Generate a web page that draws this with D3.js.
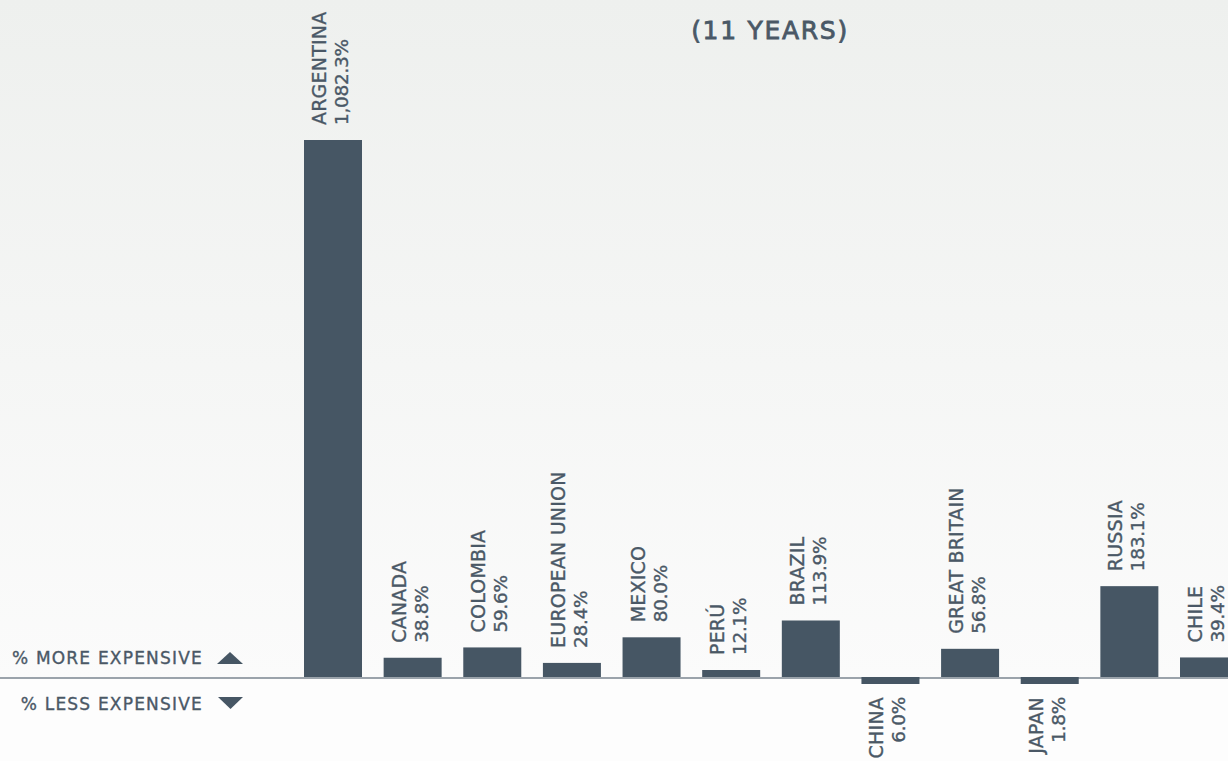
<!DOCTYPE html>
<html>
<head>
<meta charset="utf-8">
<script src="https://cdn.jsdelivr.net/npm/d3@7"></script>
<style>
  html, body { margin: 0; padding: 0; overflow: hidden; background: #fdfdfd; }
  text { font-family: "DejaVu Sans", sans-serif; fill: #4a5866; stroke: #4a5866; stroke-width: 0.35px; }
</style>
</head>
<body>
<script>
var countries = ["ARGENTINA", "CANADA", "COLOMBIA", "EUROPEAN UNION", "MEXICO", "PERÚ", "BRAZIL", "CHINA", "GREAT BRITAIN", "JAPAN", "RUSSIA", "CHILE"];
var changes = [1082.3, 38.8, 59.6, 28.4, 80.0, 12.1, 113.9, -6.0, 56.8, -1.8, 183.1, 39.4];
var labels = ["1,082.3%", "38.8%", "59.6%", "28.4%", "80.0%", "12.1%", "113.9%", "6.0%", "56.8%", "1.8%", "183.1%", "39.4%"];
var title = "(11 YEARS)";
var moreText = "% MORE EXPENSIVE";
var lessText = "% LESS EXPENSIVE";

var width = 1228;
var height = 761;
var zeroY = 677;
var barColor = "#465664";

var svg = d3.select("body").append("svg").attr("width", width).attr("height", height);

// background: soft gradient above the baseline
var defs = svg.append("defs");
var grad = defs.append("linearGradient").attr("id", "bg").attr("x1", 0).attr("y1", 0).attr("x2", 0).attr("y2", 1);
grad.append("stop").attr("offset", "0%").attr("stop-color", "#eef0ee");
grad.append("stop").attr("offset", "100%").attr("stop-color", "#fbfbfb");
svg.append("rect").attr("x", 0).attr("y", 0).attr("width", width).attr("height", zeroY).attr("fill", "url(#bg)");
svg.append("rect").attr("x", 0).attr("y", zeroY).attr("width", width).attr("height", height - zeroY).attr("fill", "#fdfdfd");

var x = d3.scaleBand().domain(countries).range([304, 1238]).paddingInner(0.2717).paddingOuter(0);
var y = d3.scaleLinear().domain([0, 1082.3]).range([zeroY, 140]);

// baseline
svg.append("line").attr("x1", 0).attr("x2", width).attr("y1", zeroY + 1).attr("y2", zeroY + 1)
  .attr("stroke", "#9ba3ab").attr("stroke-width", 2);

var minH = 7;
function barH(v) {
  return Math.max(Math.abs(y(v) - zeroY), minH);
}
function barTop(v) {
  return v >= 0 ? zeroY - barH(v) : zeroY;
}

svg.selectAll("rect.bar").data(countries).enter().append("rect")
  .attr("class", "bar")
  .attr("x", function(d) { return x(d); })
  .attr("width", x.bandwidth())
  .attr("y", function(d, i) { return barTop(changes[i]); })
  .attr("height", function(d, i) { return barH(changes[i]); })
  .attr("fill", barColor);

// rotated labels
var lab = svg.selectAll("g.lab").data(countries).enter().append("g")
  .attr("class", "lab")
  .attr("transform", function(d, i) {
    var cx = x(d) + x.bandwidth() / 2;
    var v = changes[i];
    var ty = v >= 0 ? barTop(v) - 15 : zeroY + barH(v) + 13;
    return "translate(" + cx + "," + ty + ") rotate(-90)";
  });

lab.append("text")
  .attr("x", 0).attr("y", -7)
  .attr("text-anchor", function(d, i) { return changes[i] >= 0 ? "start" : "end"; })
  .style("font-size", "19px").style("letter-spacing", "0.2px")
  .text(function(d) { return d; });

lab.append("text")
  .attr("x", 0).attr("y", 15)
  .attr("text-anchor", function(d, i) { return changes[i] >= 0 ? "start" : "end"; })
  .style("font-size", "18.5px").style("letter-spacing", "-0.3px")
  .text(function(d, i) { return labels[i]; });

// title
svg.append("text").attr("x", 770).attr("y", 39).attr("text-anchor", "middle")
  .style("font-size", "25px").style("letter-spacing", "1.7px").style("stroke-width", "0.8px")
  .text(title);

// legend on the left
svg.append("text").attr("x", 203).attr("y", 664).attr("text-anchor", "end")
  .style("font-size", "17px").style("letter-spacing", "1.2px").text(moreText);
svg.append("text").attr("x", 203).attr("y", 710).attr("text-anchor", "end")
  .style("font-size", "17px").style("letter-spacing", "1.2px").text(lessText);
svg.append("path").attr("d", "M217,664 L230,652 L243,664 Z").attr("fill", barColor);
svg.append("path").attr("d", "M218,697 L243,697 L230.5,709 Z").attr("fill", barColor);
</script>
</body>
</html>
